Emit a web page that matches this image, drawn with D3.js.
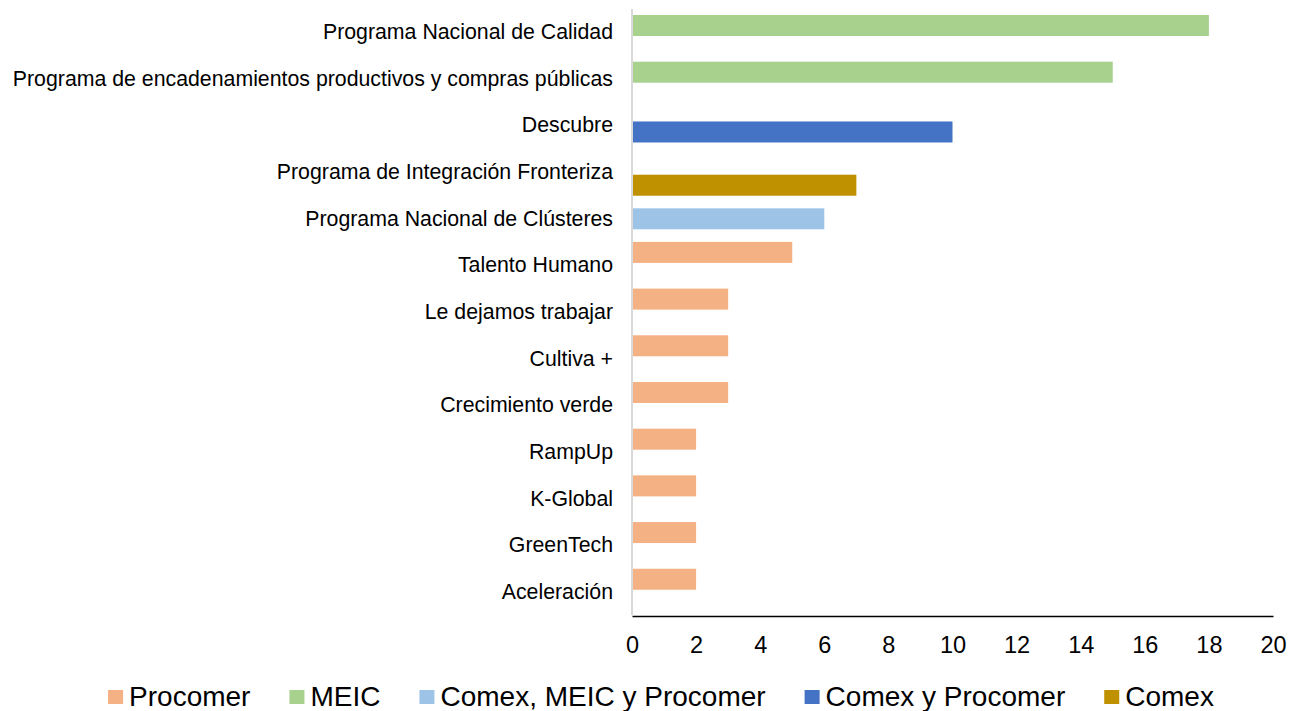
<!DOCTYPE html>
<html>
<head>
<meta charset="utf-8">
<script src="https://cdn.jsdelivr.net/npm/d3@7"></script>
<style>
  html, body { margin: 0; padding: 0; background: #ffffff; }
  svg { display: block; font-family: "Liberation Sans", Arial, sans-serif; }
</style>
</head>
<body>
<svg id="chart" width="1290" height="711"></svg>
<script>
// ---- Data ----
const categories = [
  "Programa Nacional de Calidad",
  "Programa de encadenamientos productivos y compras públicas",
  "Descubre",
  "Programa de Integración Fronteriza",
  "Programa Nacional de Clústeres",
  "Talento Humano",
  "Le dejamos trabajar",
  "Cultiva +",
  "Crecimiento verde",
  "RampUp",
  "K-Global",
  "GreenTech",
  "Aceleración"
];
const values = [18, 15, 10, 7, 6, 5, 3, 3, 3, 2, 2, 2, 2];
const owners = [
  "MEIC", "MEIC", "Comex y Procomer", "Comex", "Comex, MEIC y Procomer",
  "Procomer", "Procomer", "Procomer", "Procomer", "Procomer", "Procomer", "Procomer", "Procomer"
];
const seriesNames = ["Procomer", "MEIC", "Comex, MEIC y Procomer", "Comex y Procomer", "Comex"];
const seriesColors = ["#F4B183", "#A9D18E", "#9DC3E6", "#4472C4", "#BF9000"];
const xTicks = [0, 2, 4, 6, 8, 10, 12, 14, 16, 18, 20];

// ---- Layout ----
const svg = d3.select("#chart");
const plot = { left: 632, right: 1273, top: 8, bottom: 615 };

const x = d3.scaleLinear().domain([0, 20]).range([plot.left, plot.right]);
const y = d3.scaleBand().domain(categories).range([plot.top, plot.bottom]).paddingInner(0).paddingOuter(0);
// clustered series slot offset inside each category (overlapping clusters)
const ySeries = d3.scalePoint().domain(seriesNames).range([-12.4, 13.8]);
const color = d3.scaleOrdinal().domain(seriesNames).range(seriesColors);
const barH = 21;

const rows = categories.map((c, i) => ({ cat: c, value: values[i], owner: owners[i] }));

// bars
svg.append("g").selectAll("rect").data(rows).join("rect")
  .attr("x", x(0))
  .attr("y", d => y(d.cat) + y.bandwidth() / 2 + ySeries(d.owner) - barH / 2)
  .attr("width", d => x(d.value) - x(0))
  .attr("height", barH)
  .attr("fill", d => color(d.owner));

// vertical (category) axis line
svg.append("line")
  .attr("x1", x(0)).attr("x2", x(0))
  .attr("y1", plot.top + 1).attr("y2", plot.bottom)
  .attr("stroke", "#d9d9d9").attr("stroke-width", 2);

// category labels
svg.append("g").selectAll("text").data(categories).join("text")
  .attr("x", 613)
  .attr("y", d => y(d) + y.bandwidth() / 2 + 7.5)
  .attr("text-anchor", "end")
  .attr("font-size", 21.3)
  .attr("fill", "#000")
  .text(d => d);

// x axis
const xAxis = d3.axisBottom(x).tickValues(xTicks).tickSize(0).tickPadding(0);
const gx = svg.append("g").attr("transform", `translate(0,${plot.bottom + 1})`).call(xAxis);
gx.select(".domain").attr("stroke", "#000").attr("stroke-width", 1.6);
gx.selectAll(".tick text")
  .attr("font-family", "Liberation Sans, Arial, sans-serif")
  .attr("font-size", 23.5)
  .attr("fill", "#000")
  .attr("dy", null)
  .attr("y", 37);

// legend
const legend = svg.append("g");
const sq = 15, gapSqText = 6, gapItems = 39;
let cursor = 0;
seriesNames.forEach((name, i) => {
  const g = legend.append("g");
  g.append("rect").attr("x", 0).attr("y", -16).attr("width", sq).attr("height", 14).attr("fill", seriesColors[i]);
  const t = g.append("text").attr("x", sq + gapSqText).attr("y", 0)
    .attr("font-size", 28).attr("fill", "#000").text(name);
  const w = sq + gapSqText + t.node().getComputedTextLength();
  g.attr("transform", `translate(${cursor},0)`);
  cursor += w + gapItems;
});
const total = cursor - gapItems;
legend.attr("transform", `translate(${661 - total / 2},706)`);
</script>
</body>
</html>
